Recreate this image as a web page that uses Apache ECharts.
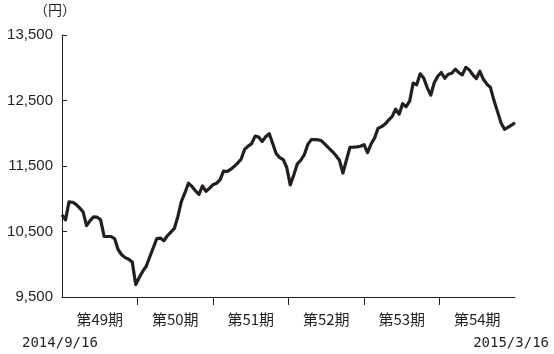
<!DOCTYPE html>
<html><head><meta charset="utf-8">
<script src="https://cdn.jsdelivr.net/npm/echarts@6/dist/echarts.min.js"></script>
<style>html,body{margin:0;padding:0;background:#fff}#c{width:554px;height:354px}</style>
</head><body><div id="c"></div>
<script>
const periods = ['第49期','第50期','第51期','第52期','第53期','第54期'];
const yTicks = [9500, 10500, 11500, 12500, 13500];
const prices = [
10754,10678,10952,10947,10915,10861,10800,10591,10667,10724,
10719,10678,10424,10424,10424,10389,10221,10145,10101,10077,
10034,9689,9797,9894,9969,10115,10252,10393,10400,10358,
10435,10491,10546,10730,10961,11089,11237,11188,11122,11066,
11196,11112,11160,11214,11237,11287,11421,11416,11447,11492,
11544,11603,11754,11804,11841,11957,11941,11873,11946,11995,
11844,11687,11628,11596,11477,11211,11363,11532,11588,11672,
11830,11903,11902,11899,11880,11827,11774,11721,11660,11588,
11393,11591,11785,11787,11792,11801,11827,11705,11835,11926,
12075,12101,12139,12200,12253,12367,12291,12451,12405,12489,
12765,12740,12908,12844,12696,12581,12771,12870,12928,12839,
12900,12915,12978,12925,12891,13007,12967,12890,12835,12946,
12824,12749,12701,12503,12334,12162,12061,12089,12125,12160
];
const startDate = '2014/9/16';
const endDate = '2015/3/16';
const unitLabel = '（円）';

const idx = prices.map((_, i) => i);
const black = '#231f20';
const chart = echarts.init(document.getElementById('c'), null, {renderer: 'canvas'});
chart.setOption({
  animation: false,
  grid: {left: 62, right: 39, top: 35, bottom: 57, containLabel: false},
  xAxis: [
    {type: 'category', data: idx, boundaryGap: false, show: false},
    {type: 'value', min: 0, max: periods.length, position: 'bottom',
     axisLine: {show: true, onZero: false, lineStyle: {color: black, width: 1}},
     axisTick: {show: true, length: 8, inside: false, lineStyle: {color: black},
       customValues: periods.slice(1).map((_, i) => i + 1)},
     axisLabel: {customValues: periods.map((_, i) => i + 0.5),
       formatter: v => periods[Math.floor(v)], color: black, fontSize: 15,
       fontFamily: 'Noto Sans CJK JP', margin: 15},
     splitLine: {show: false}}
  ],
  yAxis: {type: 'value', min: yTicks[0], max: yTicks[yTicks.length - 1], interval: 1000,
    axisLine: {show: true, lineStyle: {color: black, width: 1}},
    axisTick: {show: true, inside: true, length: 5, lineStyle: {color: black}},
    axisLabel: {color: black, fontSize: 15, fontFamily: 'Liberation Sans', margin: 9,
      formatter: v => v.toLocaleString('en-US')},
    splitLine: {show: false}},
  graphic: [
    {type: 'text', left: 34, top: 3, style: {text: unitLabel, fill: black, font: '14px "Noto Sans CJK JP"'}},
    {type: 'text', left: 22, top: 336, style: {text: startDate, fill: black, font: '14px "DejaVu Sans Mono"'}},
    {type: 'text', right: 5, top: 336, style: {text: endDate, fill: black, font: '14px "DejaVu Sans Mono"'}}
  ],
  series: [{type: 'line', xAxisIndex: 0, data: prices, showSymbol: false, symbol: 'none',
    lineStyle: {color: black, width: 3.2, join: 'round'}}]
});
</script></body></html>
